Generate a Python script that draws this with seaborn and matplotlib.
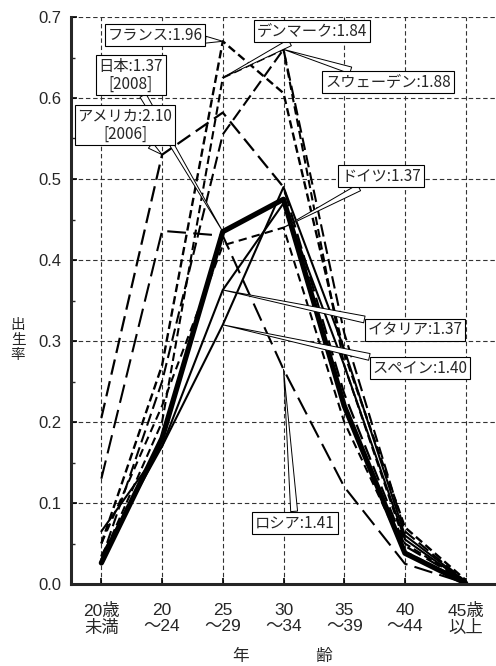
import matplotlib
matplotlib.use("Agg")
import matplotlib.pyplot as plt
import seaborn as sns
import pandas as pd

# ---- data ----
ages = ["20歳\n未満", "20\n～24", "25\n～29", "30\n～34", "35\n～39", "40\n～44", "45歳\n以上"]
countries = ["日本", "アメリカ", "フランス", "デンマーク", "スウェーデン", "ドイツ", "イタリア", "スペイン", "ロシア"]
labels = ["日本:1.37\n[2008]", "アメリカ:2.10\n[2006]", "フランス:1.96", "デンマーク:1.84",
          "スウェーデン:1.88", "ドイツ:1.37", "イタリア:1.37", "スペイン:1.40", "ロシア:1.41"]
japan   = [0.026, 0.180, 0.435, 0.475, 0.220, 0.038, 0.001]
usa     = [0.205, 0.530, 0.582, 0.490, 0.235, 0.047, 0.003]
france  = [0.050, 0.270, 0.670, 0.606, 0.285, 0.070, 0.005]
denmark = [0.030, 0.200, 0.625, 0.660, 0.270, 0.050, 0.003]
sweden  = [0.030, 0.250, 0.555, 0.660, 0.310, 0.065, 0.003]
germany = [0.050, 0.220, 0.418, 0.440, 0.200, 0.040, 0.002]
italy   = [0.035, 0.170, 0.363, 0.470, 0.270, 0.055, 0.002]
spain   = [0.065, 0.170, 0.320, 0.490, 0.290, 0.060, 0.003]
russia  = [0.130, 0.436, 0.430, 0.265, 0.120, 0.025, 0.001]
series = [japan, usa, france, denmark, sweden, germany, italy, spain, russia]
# which age index each callout points to
pointer_age = [2, 1, 2, 2, 3, 3, 2, 2, 3]
ylabel_text = "出\n生\n率"

rows = []
for c, vals in zip(countries, series):
    for i, v in enumerate(vals):
        rows.append({"country": c, "age": i, "rate": v})
df = pd.DataFrame(rows)

# ---- style ----
sns.set_style("ticks")
plt.rcParams["font.family"] = ["Liberation Sans", "Noto Sans CJK JP", "DejaVu Sans"]

W, H = 496, 666
fig = plt.figure(figsize=(W / 100, H / 100), dpi=100)
ax = fig.add_axes([71 / W, 82 / H, (W - 71) / W, (584 - 17) / H])

styles = {
    "日本":       dict(lw=3.8, ls="-"),
    "アメリカ":   dict(lw=1.6, ls=(0, (7, 3))),
    "フランス":   dict(lw=1.7, ls=(0, (3.5, 1.8))),
    "デンマーク": dict(lw=1.5, ls=(0, (4, 2))),
    "スウェーデン": dict(lw=1.5, ls=(0, (6, 2.5))),
    "ドイツ":     dict(lw=1.5, ls=(0, (4, 2.5))),
    "イタリア":   dict(lw=1.5, ls="-"),
    "スペイン":   dict(lw=1.5, ls="-"),
    "ロシア":     dict(lw=1.5, ls=(0, (9, 3.5))),
}

for c in countries:
    sub = df[df["country"] == c]
    st = styles[c]
    sns.lineplot(data=sub, x="age", y="rate", ax=ax, color="black",
                 linewidth=st["lw"], linestyle=st["ls"], solid_capstyle="round",
                 zorder=4 if c == "日本" else 3)

ax.set_xlim(-0.5, 6.5)
ax.set_ylim(0, 0.7)
ax.set_xticks(range(len(ages)))
ax.set_xticklabels(ages, fontsize=12.5, linespacing=1.05,
                   family=["Liberation Sans", "Noto Sans CJK JP"])
ax.set_yticks([i / 10 for i in range(8)])
ax.set_yticklabels([f"{i/10:.1f}" for i in range(8)], fontsize=12)
ax.set_yticks([0.05 + i / 10 for i in range(7)], minor=True)
ax.tick_params(axis="both", direction="in", length=4, width=1.2, color="black")
ax.tick_params(axis="y", pad=7)
ax.tick_params(axis="y", which="minor", direction="in", length=3, width=1)
ax.tick_params(axis="x", pad=14)
ax.set_xlabel("")
ax.set_ylabel("")
ax.grid(True, which="major", color="#333333", linestyle=(0, (4, 2.5)), linewidth=0.8)
ax.set_axisbelow(True)
for s in ["top", "right"]:
    ax.spines[s].set_visible(False)
ax.spines["left"].set_linewidth(2.2)
ax.spines["bottom"].set_linewidth(2.2)
ax.spines["left"].set_zorder(5)
ax.spines["bottom"].set_zorder(5)

# axis titles
fig.text(283 / W, 1 - 657 / H, "年　　　　齢", ha="center", va="center", fontsize=12,
         family=["Noto Sans CJK JP"])
fig.text(18 / W, 1 - 340 / H, ylabel_text, ha="center", va="center", rotation=0,
         fontsize=10.5, linespacing=1.1, family=["Noto Sans CJK JP"])

# callouts (text centre in image pixels)
text_pos = {
    "日本": (131, 75),
    "アメリカ": (125, 125),
    "フランス": (155, 35),
    "デンマーク": (312, 31),
    "スウェーデン": (388, 82),
    "ドイツ": (381, 176),
    "イタリア": (415, 330),
    "スペイン": (420, 368),
    "ロシア": (295, 523),
}
for c, lab, vals, pa in zip(countries, labels, series, pointer_age):
    tx, ty = text_pos[c]
    ax.annotate(lab, xy=(pa, vals[pa]), xycoords="data",
                xytext=(tx, H - ty), textcoords="figure pixels",
                ha="center", va="center", fontsize=11, linespacing=1.05,
                family=["Noto Sans CJK JP"], zorder=10,
                bbox=dict(boxstyle="square,pad=0.18", fc="white", ec="black", lw=0.8),
                arrowprops=dict(arrowstyle="wedge,tail_width=0.45,shrink_factor=0.5",
                                fc="white", ec="black", lw=0.7,
                                shrinkA=0, shrinkB=0))

fig.savefig("out.png", dpi=100)
